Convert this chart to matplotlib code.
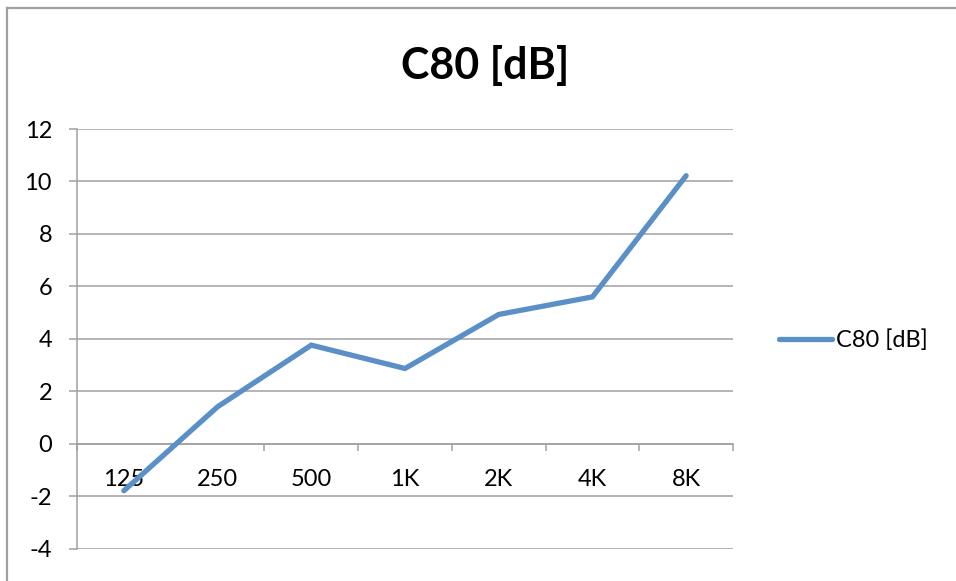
import matplotlib.pyplot as plt
from matplotlib.lines import Line2D

# values
bands = ['125', '250', '500', '1K', '2K', '4K', '8K']
c80 = [-1.79, 1.41, 3.76, 2.87, 4.93, 5.60, 10.22]
y_ticks = [-4, -2, 0, 2, 4, 6, 8, 10, 12]

line_color = '#5A8FC8'
grid_color = '#a0a0a0'

plt.rcParams['font.family'] = ['Lato', 'DejaVu Sans']
plt.rcParams['axes.unicode_minus'] = False

fig = plt.figure(figsize=(9.56, 5.81), dpi=100)
ax = fig.add_axes([77 / 956, 1 - 548.7 / 581, 656 / 956, 419.7 / 581])

x = list(range(len(bands)))
ax.plot(x, c80, color=line_color, linewidth=3.8, solid_capstyle='round',
        solid_joinstyle='miter', label='C80 [dB]', zorder=3)

ax.set_xlim(-0.5, len(bands) - 0.5)
ax.set_ylim(min(y_ticks), max(y_ticks))

# gridlines
ax.set_yticks(y_ticks)
ax.yaxis.grid(True, color=grid_color, linewidth=1.1)
ax.set_axisbelow(True)
ax.tick_params(axis='y', length=6, width=1.1, color=grid_color, pad=12, labelsize=17)

# x axis crosses at 0, tick marks between categories
for s in ['top', 'right']:
    ax.spines[s].set_visible(False)
ax.spines['left'].set_color(grid_color)
ax.spines['left'].set_linewidth(1.1)
ax.spines['bottom'].set_position(('data', 0))
ax.spines['bottom'].set_color(grid_color)
ax.spines['bottom'].set_linewidth(1.1)
ax.set_xticks([i - 0.5 for i in range(len(bands) + 1)])
ax.set_xticklabels([])
ax.tick_params(axis='x', which='major', direction='out', length=5, width=1.1, color=grid_color)
ax.set_xticks(x, minor=True)
ax.set_xticklabels(bands, minor=True)
ax.tick_params(axis='x', which='minor', length=0, pad=18, labelsize=17)

# title
fig.text(485 / 956, 1 - 66 / 581, 'C80 [dB]', ha='center', va='center',
         fontsize=31, fontweight='bold')

# legend
ax.legend(loc='center left', bbox_to_anchor=(779 / 956, 1 - 340 / 581),
          bbox_transform=fig.transFigure, frameon=False, fontsize=17,
          handlelength=2.25, handletextpad=0.15, borderpad=0, borderaxespad=0)

# chart border (left and top visible)
fig.add_artist(Line2D([6.5 / 956, 6.5 / 956], [0, 1 - 7.5 / 581], transform=fig.transFigure,
                      color='#a0a0a0', linewidth=1.6))
fig.add_artist(Line2D([6.5 / 956, 1], [1 - 7.5 / 581, 1 - 7.5 / 581], transform=fig.transFigure,
                      color='#a0a0a0', linewidth=1.6))

fig.savefig('out.png', dpi=100)
